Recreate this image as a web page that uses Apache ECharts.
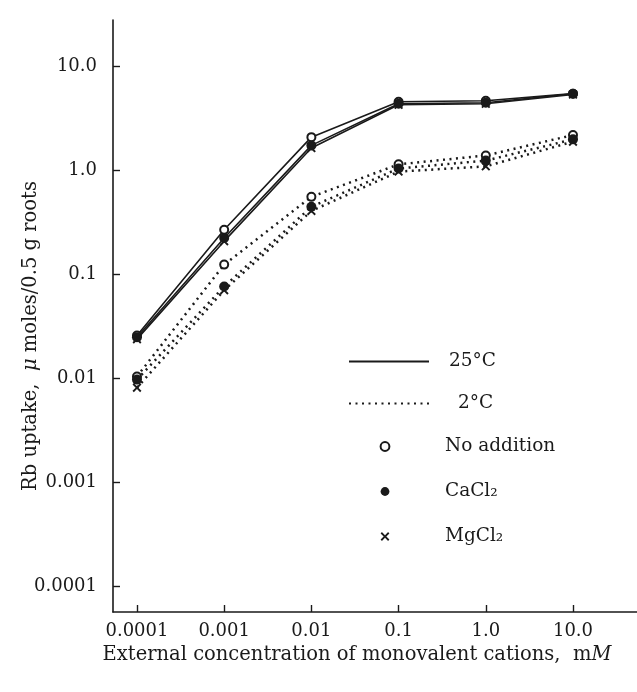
<!DOCTYPE html>
<html>
<head>
<meta charset="utf-8">
<script src="https://cdn.jsdelivr.net/npm/echarts@6/dist/echarts.min.js"></script>
<style>
  html, body { margin: 0; padding: 0; background: #fff; }
  #chart { width: 637px; height: 692px; }
</style>
</head>
<body>
<div id="chart"></div>
<script>
// concentrations (mM) and tick labels
var conc = [0.0001, 0.001, 0.01, 0.1, 1.0, 10.0];
var xTickLabels = ['0.0001', '0.001', '0.01', '0.1', '1.0', '10.0'];
var yTicks = [0.0001, 0.001, 0.01, 0.1, 1, 10];
var yTickLabels = ['0.0001', '0.001', '0.01', '0.1', '1.0', '10.0'];

// Rb uptake, umoles / 0.5 g roots
var warmNone = [0.026, 0.27, 2.1, 4.6, 4.7, 5.5];
var warmCa   = [0.025, 0.225, 1.75, 4.4, 4.5, 5.5];
var warmMg   = [0.024, 0.21, 1.65, 4.3, 4.4, 5.4];
var coldNone = [0.0105, 0.125, 0.56, 1.15, 1.4, 2.2];
var coldCa   = [0.0098, 0.077, 0.45, 1.05, 1.25, 2.0];
var coldMg   = [0.0082, 0.071, 0.41, 0.98, 1.1, 1.9];

var INK = '#1a1a1a';
var FONT = 'DejaVu Serif';
var crossPath = 'path://M0,1.5 L1.5,0 L5,3.5 L8.5,0 L10,1.5 L6.5,5 L10,8.5 L8.5,10 L5,6.5 L1.5,10 L0,8.5 L3.5,5 Z';

function pairs(vals) {
    return conc.map(function (c, i) { return [c, vals[i]]; });
}
function labelFor(list, labels) {
    return function (v) {
        var k = Math.round(Math.log(v) / Math.LN10);
        for (var i = 0; i < list.length; i++) {
            if (Math.round(Math.log(list[i]) / Math.LN10) === k) return labels[i];
        }
        return '';
    };
}

var solid = { color: INK, width: 1.6, type: 'solid' };
var dotted = { color: INK, width: 2.5, type: [2, 4.5], cap: 'butt' };

function marker(kind) {
    if (kind === 'open') return { symbol: 'emptyCircle', symbolSize: 8, itemStyle: { color: INK, borderWidth: 2 } };
    if (kind === 'fill') return { symbol: 'circle', symbolSize: 10, itemStyle: { color: INK } };
    return { symbol: crossPath, symbolSize: 9, itemStyle: { color: INK } };
}

function dataSeries(name, vals, line, kind) {
    var m = marker(kind);
    return {
        name: name, type: 'line', data: pairs(vals),
        symbol: m.symbol, symbolSize: m.symbolSize, itemStyle: m.itemStyle,
        lineStyle: line, silent: true, z: 3
    };
}

function legendSeries(name, line, kind) {
    var s = { name: name, type: 'line', data: [] };
    if (kind) {
        var m = marker(kind);
        s.symbol = m.symbol; s.itemStyle = m.itemStyle;
        s.lineStyle = { width: 0, opacity: 0 };
    } else {
        s.symbol = 'none';
        s.symbolSize = 0;
        s.itemStyle = { color: INK, opacity: 0 };
        s.lineStyle = line;
    }
    return s;
}

var chart = echarts.init(document.getElementById('chart'));
var option = {
    backgroundColor: '#fff',
    animation: false,
    grid: { left: 113, right: 0, top: 20, bottom: 80, outerBoundsMode: 'none', containLabel: false },
    legend: [{
        data: [
            { name: '25°C', itemStyle: { opacity: 0 } },
            { name: '2°C', itemStyle: { opacity: 0 }, textStyle: { padding: [0, 0, 0, 24] } }
        ],
        orient: 'vertical', left: 348, top: 352, padding: 0,
        itemWidth: 80, itemHeight: 10, itemGap: 23,
        textStyle: { fontFamily: FONT, fontSize: 18.5, color: INK, padding: [0, 0, 0, 15] },
        selectedMode: false
    }, {
        data: ['No addition', 'CaCl₂', 'MgCl₂'],
        orient: 'vertical', left: 330, top: 437, padding: 0,
        itemWidth: 110, itemHeight: 11, itemGap: 26,
        textStyle: { fontFamily: FONT, fontSize: 18.5, color: INK },
        selectedMode: false
    }],
    xAxis: {
        type: 'log', logBase: 10,
        min: 5.31e-5, max: 54.2,
        name: 'External concentration of monovalent cations,  m{i|M}',
        nameLocation: 'middle', nameGap: 33,
        nameTextStyle: {
            fontFamily: FONT, fontSize: 19.5, color: INK, padding: [0, 36, 0, 0],
            rich: { i: { fontFamily: FONT, fontSize: 19.5, fontStyle: 'italic', color: INK } }
        },
        axisLine: { lineStyle: { color: INK, width: 1.6 } },
        axisTick: { inside: true, length: 7, lineStyle: { color: INK, width: 1.4 }, customValues: conc },
        axisLabel: {
            fontFamily: FONT, fontSize: 18, color: INK, margin: 10,
            customValues: conc, formatter: labelFor(conc, xTickLabels)
        },
        splitLine: { show: false },
        minorTick: { show: false }
    },
    yAxis: {
        type: 'log', logBase: 10,
        min: 5.71e-5, max: 28.1,
        name: 'Rb uptake,  {i|μ} moles/0.5 g roots',
        nameLocation: 'middle', nameGap: 72, nameMoveOverlap: false,
        nameTextStyle: {
            fontFamily: FONT, fontSize: 19.5, color: INK, padding: [0, 40, 0, 0],
            rich: { i: { fontFamily: FONT, fontSize: 19.5, fontStyle: 'italic', color: INK } }
        },
        axisLine: { lineStyle: { color: INK, width: 1.6 } },
        axisTick: { inside: true, length: 7, lineStyle: { color: INK, width: 1.4 }, customValues: yTicks },
        axisLabel: {
            fontFamily: FONT, fontSize: 18, color: INK, margin: 16,
            customValues: yTicks, formatter: labelFor(yTicks, yTickLabels)
        },
        splitLine: { show: false },
        minorTick: { show: false }
    },
    series: [
        dataSeries('25 none', warmNone, solid, 'open'),
        dataSeries('25 Ca', warmCa, solid, 'fill'),
        dataSeries('25 Mg', warmMg, solid, 'cross'),
        dataSeries('2 none', coldNone, dotted, 'open'),
        dataSeries('2 Ca', coldCa, dotted, 'fill'),
        dataSeries('2 Mg', coldMg, dotted, 'cross'),
        legendSeries('25°C', solid),
        legendSeries('2°C', dotted),
        legendSeries('No addition', null, 'open'),
        legendSeries('CaCl₂', null, 'fill'),
        legendSeries('MgCl₂', null, 'cross')
    ]
};
chart.setOption(option);
window.addEventListener('resize', function () { chart.resize(); });
</script>
</body>
</html>
